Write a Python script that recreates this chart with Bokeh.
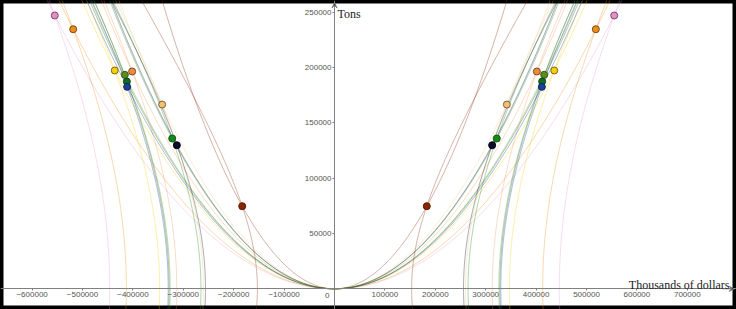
import numpy as np
from bokeh.plotting import figure
from bokeh.models import FixedTicker, Label, Range1d, Arrow, VeeHead
from bokeh.embed import file_html
from bokeh.resources import INLINE

# ---- data (right-hand points; the figure is mirrored about x = 0)
point_x = [555000, 518500, 436000, 416000, 401500, 412000, 411400, 342000, 322000, 312800, 183100]
point_y = [247100, 234700, 197400, 193500, 196500, 187400, 182600, 166600, 135900, 129800, 74700]
root_x = [446000, 413000, 347000, 326000, 313000, 328000, 330000, 260000, 265000, 256000, 153000]
fill_colors = ["#e58fc8", "#ee8e1a", "#f4d00c", "#5e8c1c", "#ef8b3e", "#0f6b20",
               "#1b4096", "#f3c070", "#13891a", "#0b0b2a", "#8a2602"]
outline_colors = ["#7a4a6a", "#7a4a10", "#7a6a10", "#3a5a10", "#7a4a20", "#0a4a14",
                  "#10285a", "#7a6040", "#0c5a10", "#000010", "#5a1800"]
curve_alpha = [0.3, 0.35, 0.35, 0.35, 0.3, 0.35, 0.35, 0.3, 0.35, 0.35, 0.35]
x_ticks = [-600000, -500000, -400000, -300000, -200000, -100000,
           100000, 200000, 300000, 400000, 500000, 600000, 700000]
y_ticks = [50000, 100000, 150000, 200000, 250000]

X0, X1 = -662700, 797600
Y0, Y1 = -18700, 260670

p = figure(width=736, height=309, x_range=Range1d(X0, X1), y_range=Range1d(Y0, Y1),
           output_backend="svg", toolbar_location=None, min_border=0,
           background_fill_color="white", border_fill_color="white")
p.grid.visible = False
p.outline_line_color = "black"
p.outline_line_width = 6

for ax, ticks in ((p.xaxis, x_ticks), (p.yaxis, y_ticks)):
    ax.fixed_location = 0
    ax.ticker = FixedTicker(ticks=ticks)
    ax.axis_line_color = "#808080"
    ax.axis_line_width = 1
    ax.major_tick_line_color = "#808080"
    ax.major_tick_in = 0
    ax.major_tick_out = 2
    ax.minor_tick_line_color = None
    ax.major_label_standoff = 1
    ax.major_label_text_font = "Liberation Sans"
    ax.major_label_text_font_size = "8px"
    ax.major_label_text_color = "#555555"
p.xaxis.formatter.use_scientific = False
p.yaxis.formatter.use_scientific = False

# ---- curves: parabola through origin and hyperbola-like curve through each point
xs_full = np.linspace(-720000, 720000, 600)
ys_h = np.linspace(-25000, 270000, 300)
for px_, py_, r, c, a in zip(point_x, point_y, root_x, fill_colors, curve_alpha):
    k = py_ / px_ ** 2
    p.line(xs_full, k * xs_full ** 2, line_color=c, line_alpha=a, line_width=1)
    cc = (px_ ** 2 - r ** 2) / py_ ** 2
    xh = np.sqrt(r ** 2 + cc * ys_h ** 2)
    p.line(xh, ys_h, line_color=c, line_alpha=a, line_width=1)
    p.line(-xh, ys_h, line_color=c, line_alpha=a, line_width=1)

# ---- points (mirrored)
all_x = point_x + [-v for v in point_x]
all_y = point_y + point_y
p.scatter(all_x, all_y, size=7, fill_color=fill_colors * 2, line_color=outline_colors * 2,
          line_width=1)

# ---- axis arrows and labels
p.add_layout(Arrow(end=VeeHead(size=5, line_color="#808080", line_width=1),
                   x_start=770000, y_start=0, x_end=793000, y_end=0,
                   line_color="#808080", line_width=1))
p.add_layout(Arrow(end=VeeHead(size=5, line_color="#808080", line_width=1),
                   x_start=0, y_start=250000, x_end=0, y_end=258500,
                   line_color="#808080", line_width=1))

p.add_layout(Label(x=6000, y=248500, text="Tons", text_font="Liberation Serif",
                   text_font_size="12px", text_color="#222222", text_baseline="alphabetic"))
p.add_layout(Label(x=783700, y=3500, text="Thousands of dollars", text_font="Liberation Serif",
                   text_font_size="12px", text_color="#222222", text_align="right",
                   text_baseline="alphabetic"))
p.add_layout(Label(x=-14500, y=-6200, text="0", text_font="Liberation Sans",
                   text_font_size="8px", text_color="#555555", text_align="center",
                   text_baseline="middle"))

open("out.html", "w").write(file_html(p, INLINE))
